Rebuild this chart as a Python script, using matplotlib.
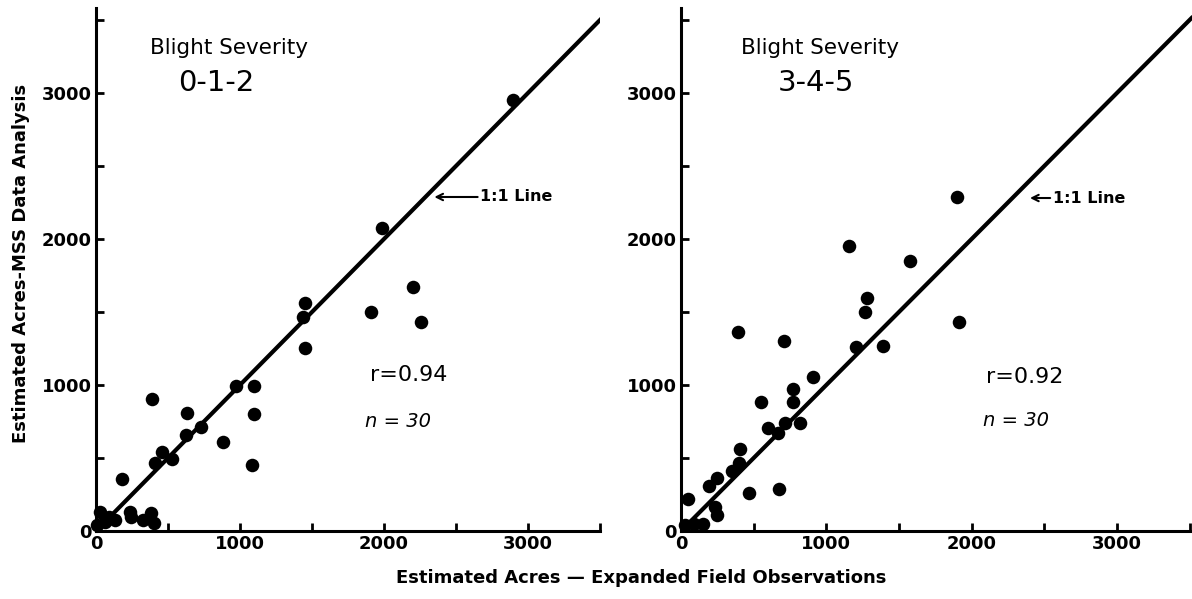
import matplotlib
matplotlib.use("Agg")
import matplotlib.pyplot as plt

# blight severity 0-1-2 : field estimate (x) vs MSS estimate (y), acres
field_012 = [2895, 1985, 2205, 2260, 1910, 1450, 1440, 1450, 970, 1095, 390,
             630, 1095, 625, 730, 880, 1085, 460, 410, 530, 180,
             30, 130, 235, 245, 330, 380, 400, 60, 10, 90]
mss_012 = [2950, 2075, 1670, 1430, 1500, 1560, 1465, 1255, 995, 995, 905,
           810, 800, 660, 710, 610, 450, 540, 465, 495, 355,
           130, 75, 130, 95, 75, 125, 55, 60, 40, 95]

# blight severity 3-4-5
field_345 = [1900, 1575, 1910, 1390, 1155, 1280, 1265, 390, 710, 1205, 910,
             770, 770, 550, 820, 715, 600, 665, 405, 400, 350, 250, 195,
             470, 675, 50, 235, 245, 30, 90, 150]
mss_345 = [2290, 1850, 1430, 1270, 1950, 1595, 1500, 1360, 1300, 1260, 1055,
           970, 885, 885, 740, 740, 705, 670, 565, 465, 410, 365, 310,
           260, 290, 220, 165, 110, 40, 45, 50]

tick_major = [0, 1000, 2000, 3000]
tick_minor = [500, 1500, 2500, 3500]
line_11 = [0, 4000]

fig = plt.figure(figsize=(11.92, 5.99), dpi=100)
ax1 = fig.add_axes([0.0805, 0.1135, 0.4228, 0.873])
ax2 = fig.add_axes([0.5713, 0.1135, 0.4287, 0.873])

panels = [
    (ax1, field_012, mss_012, 3464, (921, 832), "0-1-2", "r=0.94",
     (2172, 1068), (2096, 747), (2350, 2288), (2670, 2288)),
    (ax2, field_345, mss_345, 3517, (957, 929), "3-4-5", "r=0.92",
     (2367, 1055), (2306, 760), (2402, 2281), (2560, 2281)),
]

for ax, xs, ys, xmax, tx, sev, rtxt, rpos, npos, tip, tail in panels:
    ax.plot(line_11, line_11, color="black", lw=3.0, solid_capstyle="butt")
    ax.scatter(xs, ys, s=95, color="black", zorder=3, clip_on=False, linewidths=0)
    ax.set_xlim(0, xmax)
    ax.set_ylim(0, 3582)
    ax.spines["top"].set_visible(False)
    ax.spines["right"].set_visible(False)
    ax.spines["left"].set_linewidth(2.2)
    ax.spines["bottom"].set_linewidth(2.2)
    ax.set_xticks(tick_major)
    ax.set_yticks(tick_major)
    ax.set_xticks(tick_minor, minor=True)
    ax.set_yticks(tick_minor, minor=True)
    ax.tick_params(which="both", direction="in", length=6, width=2, pad=3,
                   labelsize=13)
    for lab in ax.get_xticklabels() + ax.get_yticklabels():
        lab.set_fontweight("bold")

    ax.text(tx[0], 3308, "Blight Severity", ha="center", va="center", fontsize=15.5)
    ax.text(tx[1], 3068, sev, ha="center", va="center", fontsize=21)
    ax.text(rpos[0], rpos[1], rtxt, ha="center", va="center", fontsize=16)
    ax.text(npos[0], npos[1], "n = 30", ha="center", va="center", fontsize=14,
            fontstyle="italic")
    ax.annotate("1:1 Line", xy=tip, xytext=tail, ha="left", va="center",
                fontsize=11.5, fontweight="bold",
                arrowprops=dict(arrowstyle="->", color="black", lw=1.5,
                                shrinkA=0, shrinkB=0))

fig.text(0.538, 0.035, "Estimated Acres \u2014 Expanded Field Observations",
         ha="center", va="center", fontsize=13, fontweight="bold")
fig.text(0.018, 0.56, "Estimated Acres-MSS Data Analysis", rotation=90,
         ha="center", va="center", fontsize=13, fontweight="bold")

fig.savefig("out.png", dpi=100)
